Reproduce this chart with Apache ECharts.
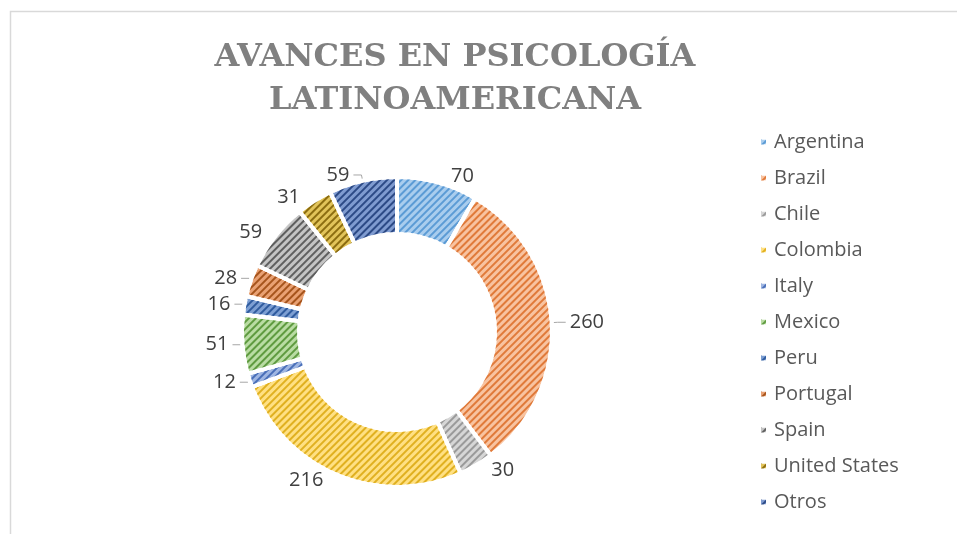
<!DOCTYPE html>
<html>
<head>
<meta charset="utf-8">
<script src="https://cdn.jsdelivr.net/npm/echarts@6/dist/echarts.min.js"></script>
<style>html,body{margin:0;padding:0;background:#fff;}#c{width:957px;height:534px;}</style>
</head>
<body>
<div id="c"></div>
<script>
const titleText = 'AVANCES EN PSICOLOGÍA\nLATINOAMERICANA';
const categories = ['Argentina','Brazil','Chile','Colombia','Italy','Mexico','Peru','Portugal','Spain','United States','Otros'];
const values = [70,260,30,216,12,51,16,28,59,31,59];
const fillColors = ['#a9cdee','#f8c3a0','#d6d6d6','#ffe083','#9fb6e2','#b9dca3','#7d9fd3','#e9a173','#c4c4c4','#e2c45a','#7f9bd0'];
const stripeColors = ['#5b9bd5','#e07a3a','#9a9a9a','#e0b020','#4a6fb8','#5f9b40','#2f5b9e','#a6541c','#5f5f5f','#8c6d10','#2c4a86'];
const leaderShown = [false,true,false,false,true,true,true,true,false,false,true];

const chart = echarts.init(document.getElementById('c'), null, {renderer:'canvas'});
const data = categories.map((n,i)=>({
  name:n, value:values[i],
  labelLine:{show:leaderShown[i]},
  itemStyle:{
    color:fillColors[i],
    decal:{symbol:'rect', symbolSize:1, dashArrayX:[[1,0]], dashArrayY:[1.4,3], rotation:-Math.PI/4, color:stripeColors[i]}
  }
}));
chart.setOption({
  animation:false,
  graphic:[
    {type:'rect', shape:{x:10.5,y:11.5,width:1000,height:600}, style:{fill:'none', stroke:'#d9d9d9', lineWidth:1.5}, silent:true},
    {type:'text', x:455, y:79, style:{text:titleText, textAlign:'center', textVerticalAlign:'middle', font:'bold 32px "DejaVu Serif"', fill:'#808080', lineHeight:43}}
  ],
  legend:{
    orient:'vertical', left:754, top:127,
    itemWidth:7, itemHeight:7, itemGap:16, icon:'rect',
    textStyle:{fontFamily:'Open Sans', fontSize:20, color:'#595959', lineHeight:20, padding:[0,0,0,2]},
    data:categories
  },
  series:[{
    type:'pie',
    center:[397,332],
    radius:[98,155],
    startAngle:90,
    clockwise:true,
    avoidLabelOverlap:true,
    itemStyle:{borderColor:'#ffffff', borderWidth:4},
    label:{show:true, position:'outside', formatter:'{c}', fontFamily:'Open Sans', fontSize:20, color:'#404040', distanceToLabelLine:4},
    labelLine:{length:6, length2:8, lineStyle:{color:'#a6a6a6', width:1}},
    emphasis:{disabled:true},
    data:data
  }]
});
</script>
</body>
</html>
